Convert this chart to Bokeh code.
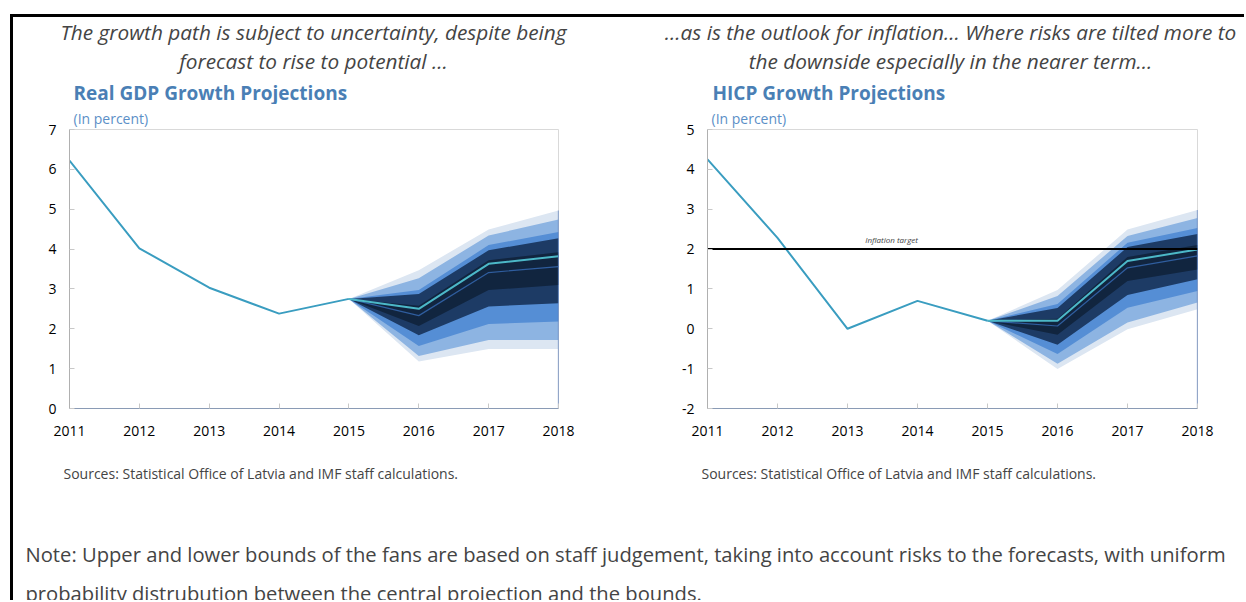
from bokeh.plotting import figure
from bokeh.layouts import column, row
from bokeh.models import Range1d, Label, FixedTicker, Title
from bokeh.embed import file_html
from bokeh.resources import INLINE

# ---------------- data ----------------
years_hist = [2011, 2012, 2013, 2014, 2015]
fan_years = [2015, 2016, 2017, 2018]
x_ticks = [2011, 2012, 2013, 2014, 2015, 2016, 2017, 2018]

gdp_hist = [6.22, 4.02, 3.03, 2.38, 2.75]
gdp_central = [2.75, 2.50, 3.63, 3.82]
gdp_inner = [2.75, 2.33, 3.41, 3.56]
gdp_lo_1 = [2.75, 1.18, 1.49, 1.49]
gdp_hi_1 = [2.75, 3.47, 4.49, 4.97]
gdp_lo_2 = [2.75, 1.32, 1.72, 1.72]
gdp_hi_2 = [2.75, 3.27, 4.34, 4.74]
gdp_lo_3 = [2.75, 1.57, 2.12, 2.18]
gdp_hi_3 = [2.75, 2.97, 4.10, 4.43]
gdp_lo_4 = [2.75, 1.84, 2.56, 2.64]
gdp_hi_4 = [2.75, 2.87, 3.97, 4.27]
gdp_lo_5 = [2.75, 2.07, 2.97, 3.10]
gdp_hi_5 = [2.75, 2.58, 3.72, 3.92]
gdp_y_ticks = [0, 1, 2, 3, 4, 5, 6, 7]

hicp_hist = [4.25, 2.28, 0.0, 0.70, 0.20]
hicp_central = [0.20, 0.20, 1.70, 1.99]
hicp_inner = [0.20, 0.07, 1.53, 1.83]
hicp_lo_1 = [0.20, -1.01, -0.01, 0.49]
hicp_hi_1 = [0.20, 0.97, 2.49, 2.98]
hicp_lo_2 = [0.20, -0.88, 0.16, 0.66]
hicp_hi_2 = [0.20, 0.82, 2.33, 2.78]
hicp_lo_3 = [0.20, -0.63, 0.53, 0.95]
hicp_hi_3 = [0.20, 0.62, 2.16, 2.53]
hicp_lo_4 = [0.20, -0.40, 0.85, 1.24]
hicp_hi_4 = [0.20, 0.52, 2.05, 2.38]
hicp_lo_5 = [0.20, -0.15, 1.20, 1.49]
hicp_hi_5 = [0.20, 0.25, 1.80, 2.10]
hicp_y_ticks = [-2, -1, 0, 1, 2, 3, 4, 5]
inflation_target = 2.0

band_colors = ["#dce6f2", "#8db4e2", "#558ed5", "#1d3b65", "#11253f"]

FONT = "Open Sans"
TITLE_BLUE = "#4a7fb5"
W = 1231
HEAD_H = 87            # header panel: page y 17 .. 104
CHART_TOP = 24         # chart frame top at page y 128


def make_chart(width, mb_left, mb_right, y_lo, y_hi, hist, central, inner, bands, yticks):
    p = figure(width=width, height=CHART_TOP + 280 + 37, x_range=Range1d(2011, 2018),
               y_range=Range1d(y_lo, y_hi),
               output_backend="svg", toolbar_location=None,
               min_border_left=mb_left, min_border_right=mb_right,
               min_border_top=CHART_TOP, min_border_bottom=37)
    p.xgrid.visible = False
    p.ygrid.visible = False
    p.outline_line_color = "#d9d9d9"
    p.add_layout(Title(text="(In percent)", align="left", offset=4, standoff=4,
                       text_font=FONT, text_font_size="14px", text_font_style="normal",
                       text_color="#5b8fc7"), "above")
    for (lo, hi), c in zip(bands, band_colors):
        p.varea(x=fan_years, y1=lo, y2=hi, fill_color=c)
    p.line(fan_years, inner, line_color="#2f5d9e", line_width=1.2)
    p.line(years_hist, hist, line_color="#3a9dc0", line_width=2)
    p.line(fan_years, central, line_color="#4cb8c8", line_width=2)
    # right edge of the fan dropping to the axis
    p.segment(x0=[fan_years[-1]], y0=[y_lo], x1=[fan_years[-1]], y1=[bands[0][1][-1]],
              line_color="#4f74b8", line_width=1.2)

    for ax in (p.xaxis, p.yaxis):
        ax.minor_tick_line_color = None
        ax.major_tick_out = 0
        ax.major_tick_in = 5
        ax.major_label_text_font = FONT
        ax.major_label_text_font_size = "14px"
        ax.major_label_text_color = "#000000"
        ax.major_tick_line_color = "#c8c8c8"
    p.xaxis.ticker = FixedTicker(ticks=x_ticks)
    p.yaxis.ticker = FixedTicker(ticks=yticks)
    p.yaxis.major_label_overrides = {t: str(t) for t in yticks}
    p.xaxis.axis_line_color = "#8a9bb5"
    p.yaxis.axis_line_color = "#b0b0b0"
    p.yaxis.major_label_standoff = 13
    p.xaxis.major_label_standoff = 17
    return p


gdp_bands = [(gdp_lo_1, gdp_hi_1), (gdp_lo_2, gdp_hi_2), (gdp_lo_3, gdp_hi_3),
             (gdp_lo_4, gdp_hi_4), (gdp_lo_5, gdp_hi_5)]
hicp_bands = [(hicp_lo_1, hicp_hi_1), (hicp_lo_2, hicp_hi_2), (hicp_lo_3, hicp_hi_3),
              (hicp_lo_4, hicp_hi_4), (hicp_lo_5, hicp_hi_5)]

p1 = make_chart(627, 56, 82, 0, 7, gdp_hist, gdp_central, gdp_inner, gdp_bands, gdp_y_ticks)
p2 = make_chart(598, 67, 41, -2, 5, hicp_hist, hicp_central, hicp_inner, hicp_bands, hicp_y_ticks)

p2.line([2011, 2018], [inflation_target, inflation_target], line_color="black", line_width=2)
p2.add_layout(Label(x=2013.63, y=inflation_target, y_offset=10, text="Inflation target",
                    text_font=FONT, text_font_style="italic", text_font_size="8px",
                    text_align="center", text_baseline="middle"))


def text_panel(height):
    f = figure(width=W, height=height, x_range=Range1d(0, W), y_range=Range1d(height, 0),
               output_backend="svg", toolbar_location=None, x_axis_type=None, y_axis_type=None,
               min_border=0)
    f.xgrid.visible = False
    f.ygrid.visible = False
    f.outline_line_color = None
    return f


def put(f, x, y, text, **kw):
    f.add_layout(Label(x=x, y=y, text=text, text_font=FONT, text_baseline="middle", **kw))


# header panel (page x 13 .., page y 17 ..)
head = text_panel(HEAD_H)
OX, OY = 13, 17
for cx, lines in ((313, ["The growth path is subject to uncertainty, despite being",
                         "forecast to rise to potential …"]),
                  (950, ["…as is the outlook for inflation… Where risks are tilted more to",
                         "the downside especially in the nearer term…"])):
    put(head, cx - OX, 31 - OY, lines[0], text_align="center", text_font_style="italic",
        text_font_size="20.8px")
    put(head, cx - OX, 60 - OY, lines[1], text_align="center", text_font_style="italic",
        text_font_size="20.8px")
for lx, title in ((73, "Real GDP Growth Projections"), (712, "HICP Growth Projections")):
    put(head, lx - OX, 92 - OY, title, text_align="left", text_font_style="bold",
        text_font_size="19px", text_color=TITLE_BLUE)

# footer panel (page y 445 .. 600)
foot = text_panel(155)
FY = 445
for sx in (63, 701):
    put(foot, sx - OX, 473 - FY, "Sources: Statistical Office of Latvia and IMF staff calculations.",
        text_align="left", text_font_size="14px")
put(foot, 25 - OX, 553 - FY, "Note: Upper and lower bounds of the fans are based on staff judgement, "
    "taking into account risks to the forecasts, with uniform", text_font_size="20.2px")
put(foot, 25 - OX, 592 - FY, "probability distrubution between the central projection and the bounds.",
    text_font_size="20.2px")

layout = column(head, row(p1, p2, spacing=0), foot, spacing=0, margin=(14, 0, 0, 10),
                styles={"border-top": "3px solid black", "border-left": "3px solid black"})

open("out.html", "w").write(file_html(layout, INLINE))
